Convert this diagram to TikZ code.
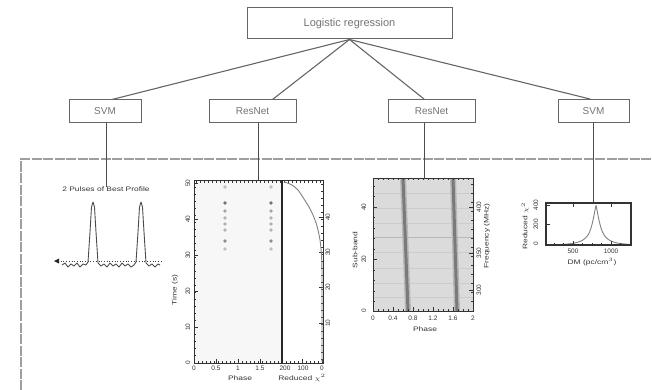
\documentclass[tikz,border=0pt]{standalone}
\usepackage{fontspec}
\setmainfont{Liberation Sans}
\usetikzlibrary{calc}
\newcommand{\widetxt}[1]{\scalebox{1.3}[1]{#1}}
\begin{document}
\begin{tikzpicture}[x=1pt,y=-1pt,
  box/.style={draw=black!60, line width=1pt, minimum height=23pt, inner sep=0pt, text=black!55, font=\fontsize{10}{12}\selectfont},
  conn/.style={draw=black!60, line width=1.1pt},
  vconn/.style={draw=black!70, line width=0.8pt},
  sep/.style={draw=black!38, line width=1.1pt, dash pattern=on 10pt off 1.5pt},
  pl/.style={font=\fontsize{6.5}{7}\selectfont, text=black!80, inner sep=0pt},
  frame/.style={draw=black!80, line width=0.9pt},
  tk/.style={draw=black!80, line width=0.5pt},
  crv/.style={draw=black!50, line width=0.9pt},
]
\useasboundingbox (0,0) rectangle (652,390);

% ---------- tree ----------
\node[box, minimum width=205pt, minimum height=31pt, font=\fontsize{11}{13}\selectfont] (lr) at (349.5,23.5) {Logistic regression};
\node[box, minimum width=72pt] (s1) at (105,111.5) {SVM};
\node[box, minimum width=87pt] (r1) at (252.5,111.5) {ResNet};
\node[box, minimum width=87pt] (r2) at (431.5,111) {ResNet};
\node[box, minimum width=71pt] (s2) at (593.5,111) {SVM};

\draw[conn] (lr.south) -- ($(s1.north)+(7,0)$);
\draw[conn] (lr.south) -- ($(r1.north)+(20,0)$);
\draw[conn] (lr.south) -- ($(r2.north)+(-7.5,0)$);
\draw[conn] (lr.south) -- ($(s2.north)+(-3.5,0)$);

% separator
\draw[sep] (21,390) -- (21,159) -- (652,159);

% plot anchors
\coordinate (pA) at (106,187);
\coordinate (pB) at (258,180);
\coordinate (pC) at (424,178);
\coordinate (pD) at (593.5,203);
\draw[vconn] ($(s1.south)+(1,0)$) -- (pA);
\draw[vconn] ($(r1.south)+(5.5,0)$) -- (pB);
\draw[vconn] ($(r2.south)+(-7.5,0)$) -- (pC);
\draw[vconn] (s2.south) -- (pD);

% ---------- plot A : pulse profile ----------
\node[pl, anchor=north] (tA) at (pA) {\widetxt{2 Pulses of Best Profile}};
\draw[black!75, dotted, line width=0.7pt] (58,261) -- (163,261);
\fill[black!85] (54,261) -- (59,258.5) -- (59,263.5) -- cycle;
\draw[black!70, line width=0.9pt, line join=round]
 (62,265) -- (65,263) -- (68,267) -- (71,264) -- (74,266) -- (77,263) -- (80,267) -- (83,264) -- (86,265) -- (88,262)
 -- (90,232) -- (91.5,207) -- (93,202) -- (94.5,207) -- (96,232) -- (98,263)
 -- (101,266) -- (104,264) -- (107,267) -- (110,263) -- (113,266) -- (116,264) -- (119,267) -- (122,263) -- (125,266) -- (128,264) -- (131,267) -- (134,265) -- (136,262)
 -- (138,232) -- (139.5,207) -- (141,202) -- (142.5,207) -- (144,232) -- (146,263)
 -- (149,266) -- (152,264) -- (155,267) -- (158,264) -- (160,265);

% ---------- plot B : time vs phase ----------
\fill[black!3] (194,180) rectangle (282,363);
\foreach \y/\c in {187/25,203/55,211/35,218/30,224/30,230/30,241/45,249/25}{
  \fill[black!\c] (225,\y) circle (1.8);
  \fill[black!\c] (271,\y) circle (1.8);
}
\draw[frame] (194,180) rectangle (323,363);
\draw[black!85, line width=1.3pt] (282,180) -- (282,363);
% left axis ticks
\foreach \y in {183,219,255,291,327,363} \draw[tk] (194,\y) -- ++(4,0);
\foreach \y in {187,194,...,360} \draw[tk] (194,\y) -- ++(2,0);
% top ticks
\foreach \x in {196,200,...,322} \draw[tk] (\x,180) -- ++(0,2.5);
% bottom ticks
\foreach \x in {194,216,238,260} \draw[tk] (\x,363) -- ++(0,-4);
\foreach \x in {198,202,...,280} \draw[tk] (\x,363) -- ++(0,-2);
\foreach \x in {302,322} \draw[tk] (\x,363) -- ++(0,-4);
\foreach \x in {286,290,...,320} \draw[tk] (\x,363) -- ++(0,-2);
% right ticks
\foreach \y in {217,252,287,323} \draw[tk] (323,\y) -- ++(-4,0);
\foreach \y in {184,191,...,360} \draw[tk] (323,\y) -- ++(-2,0);
% chi2 curve
\draw[crv] plot[smooth] coordinates {(284,182) (291,184.5) (298,190) (304,199) (309,207) (313,215) (317,226) (320,240) (321.5,255) (322,270)} -- (322,362);
% labels
\foreach \y/\t in {183/50,219/40,255/30,291/20,327/10,363/0}
  \node[pl, rotate=90] at (188,\y) {\t};
\foreach \y/\t in {217/40,252/30,287/20,323/10}
  \node[pl, rotate=90] at (328,\y) {\t};
\foreach \x/\t in {194/0,216/0.5,238/1,260/1.5}
  \node[pl] at (\x,368) {\t};
\foreach \x/\t in {285/200,303/100,322/0}
  \node[pl] at (\x,368) {\t};
\node[pl, rotate=90] (tB) at (175,290) {\widetxt{Time (s)}};
\node[pl] (xB1) at (240,378) {\widetxt{Phase}};
\node[pl] (xB2) at (302,378) {\widetxt{Reduced $\chi^2$}};

% ---------- plot C : frequency vs phase ----------
\fill[black!14] (373,178) rectangle (473,311);
\foreach \y in {193,208,223,252,268,283,297} \draw[black!20, line width=0.6pt] (373,\y) -- (473,\y);
\draw[black!28, line width=0.8pt] (373,237) -- (473,237);
\fill[black!28] (400,178) -- (406,178) -- (411,311) -- (405,311) -- cycle;
\fill[black!52] (401.5,178) -- (404.5,178) -- (409.5,311) -- (406.5,311) -- cycle;
\fill[black!28] (450,178) -- (456,178) -- (460,311) -- (454,311) -- cycle;
\fill[black!52] (451.5,178) -- (454.5,178) -- (458.5,311) -- (455.5,311) -- cycle;
\draw[frame] (373,178) rectangle (473,311);
\foreach \y in {207,259,311} \draw[tk] (373,\y) -- ++(4,0);
\foreach \y in {186,196.5,...,306} \draw[tk] (373,\y) -- ++(2,0);
\foreach \y in {207,253,290} \draw[tk] (473,\y) -- ++(-4,0);
\foreach \y in {184,193,...,308} \draw[tk] (473,\y) -- ++(-2,0);
\foreach \x in {373,393,...,473} \draw[tk] (\x,311) -- ++(0,-4);
\foreach \x in {378,383,...,470} \draw[tk] (\x,311) -- ++(0,-2);
\foreach \x in {378,383,...,470} \draw[tk] (\x,178) -- ++(0,2);
\foreach \y/\t in {207/40,259/20,311/0}
  \node[pl, rotate=90] at (364,\y) {\t};
\foreach \y/\t in {207/400,253/350,290/300}
  \node[pl, rotate=90] at (479,\y) {\t};
\foreach \x/\t in {373/0,393/0.4,413/0.8,433/1.2,453/1.6,473/2}
  \node[pl] at (\x,318.5) {\t};
\node[pl, rotate=90] (yC1) at (355,250) {\widetxt{Sub-band}};
\node[pl, rotate=90] (yC2) at (487,236) {\widetxt{Frequency (MHz)}};
\node[pl] (xC) at (425,329) {\widetxt{Phase}};

% ---------- plot D : chi2 vs DM ----------
\draw[crv] plot[smooth] coordinates {(548,244.6) (563,244.4) (575,243) (583,240) (588,235) (591,228) (593.5,218) (595,210) (596,205.5)};
\draw[crv] plot[smooth] coordinates {(596,205.5) (597,210) (598.5,218) (601,228) (604,235) (609,240) (617,243) (629,244.4)};
\draw[frame, line width=1.2pt] (546,203) rectangle (631,245);
\foreach \y in {205,224.5,244} \draw[tk] (546,\y) -- ++(4,0);
\foreach \x in {573,611} \draw[tk] (\x,245) -- ++(0,-4);
\foreach \x in {554,563,582,592,601,620} \draw[tk] (\x,245) -- ++(0,-2);
\foreach \x in {573,611} \draw[tk] (\x,203) -- ++(0,4);
\foreach \y/\t in {205/400,224.5/200,244/0}
  \node[pl, rotate=90] at (536,\y) {\t};
\foreach \x/\t in {573/500,611/1000}
  \node[pl] at (\x,251) {\t};
\node[pl, rotate=90] (yD) at (525,226) {\widetxt{Reduced $\chi^2$}};
\node[pl] (xD) at (592,262) {\widetxt{DM (pc/cm$^3$)}};
\end{tikzpicture}
\end{document}
